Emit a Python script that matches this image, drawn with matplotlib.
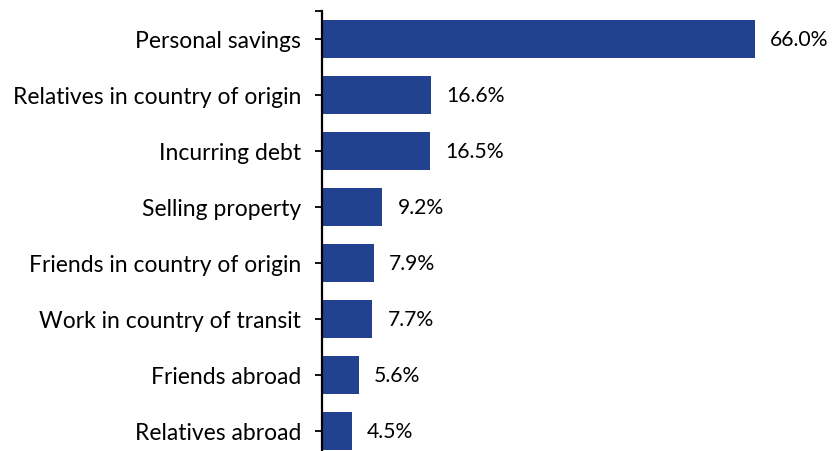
import matplotlib.pyplot as plt

plt.rcParams['font.family'] = ['Lato', 'DejaVu Sans']

sources = ['Personal savings', 'Relatives in country of origin', 'Incurring debt',
           'Selling property', 'Friends in country of origin',
           'Work in country of transit', 'Friends abroad', 'Relatives abroad']
shares = [66.0, 16.6, 16.5, 9.2, 7.9, 7.7, 5.6, 4.5]

bar_color = '#22418f'

fig = plt.figure(figsize=(8.32, 4.52), dpi=100)
# axes run a little past the bottom edge so the last bar sits like the others
ax = fig.add_axes([322 / 832, -8 / 452, 459 / 832, 448 / 452])

pos = list(range(len(sources)))
ax.barh(pos, shares, height=0.68, color=bar_color)

for p, v in zip(pos, shares):
    ax.text(v + 2.3, p, f'{v:.1f}%', va='center', ha='left', fontsize=15.2)

ax.set_xlim(0, 70)
ax.set_ylim(len(sources) - 0.5, -0.5)
ax.set_yticks(pos + [-0.5])
ax.set_yticklabels(sources + [''], fontsize=16.5)
ax.tick_params(axis='y', length=5, width=1.3, pad=10)
ax.set_xticks([])

for side in ['top', 'right', 'bottom']:
    ax.spines[side].set_visible(False)
ax.spines['left'].set_linewidth(1.6)

fig.savefig('out.png', dpi=100)
